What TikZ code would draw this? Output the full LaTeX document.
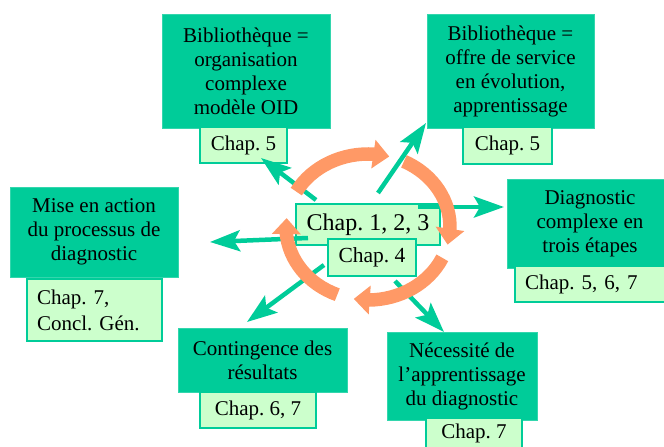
\documentclass[tikz,border=0pt]{standalone}
\usepackage{fontspec}
\setmainfont{Liberation Serif}
\usetikzlibrary{arrows.meta,bending}
\definecolor{dkg}{HTML}{00CC99}
\definecolor{ltg}{HTML}{CCFFCC}
\definecolor{org}{HTML}{FF9966}
\frenchspacing
\begin{document}
\begin{tikzpicture}[x=1pt,y=-1pt,
  dark/.style={fill=dkg, draw=dkg!80!white, line width=0.8pt, inner sep=0pt, align=center, font=\fontsize{21}{24}\selectfont},
  light/.style={fill=ltg, draw=dkg, line width=1.2pt, inner sep=0pt, align=center, font=\fontsize{21}{24}\selectfont},
  lightl/.style={light, align=left, inner xsep=10pt},
  garrow/.style={draw=dkg, line width=4.5pt, -{Stealth[length=30pt,width=21pt,inset=6pt]}},
  oarc/.style={draw=org, line width=13.5pt, -{Triangle[length=16pt,width=28pt]}}]
\useasboundingbox (0,0) rectangle (664,447);
\clip (0,0) rectangle (664,447);

% outer boxes
\node[dark, minimum width=168pt, minimum height=114pt] (b1) at (246,71) {Bibliothèque =\\organisation\\complexe\\modèle OID};
\node[light, minimum width=87pt, minimum height=36pt] (c1) at (243.5,145) {Chap. 5};

\node[dark, minimum width=167pt, minimum height=114pt] (b2) at (510.5,71) {Bibliothèque =\\offre de service\\en évolution,\\apprentissage};
\node[light, minimum width=89pt, minimum height=37pt] (c2) at (507.5,145.5) {Chap. 5};

\node[dark, minimum width=168pt, minimum height=90pt] (b3) at (94,232) {Mise en action\\du processus de\\diagnostic};
\node[lightl, text width=115pt, minimum height=62pt, font=\fontsize{21}{26}\selectfont] (c3) at (94.5,310) {Chap. 7,\\Concl. Gén.};

\node[dark, minimum width=166pt, minimum height=89pt] (b4) at (590,223.5) {Diagnostic\\complexe en\\trois étapes};
\node[lightl, text width=140pt, minimum height=36pt] (c4) at (595,284) {Chap. 5, 6, 7};

\node[dark, minimum width=169pt, minimum height=64pt] (b5) at (262.5,360) {Contingence des\\résultats};
\node[light, minimum width=116pt, minimum height=36pt] (c5) at (258,410) {Chap. 6, 7};

\node[dark, minimum width=150pt, minimum height=88pt] (b6) at (462,376) {Nécessité de\\l’apprentissage\\du diagnostic};
\node[light, minimum width=96pt, minimum height=30pt] (c6) at (474,433) {Chap. 7};

% centre
\node[light, minimum width=144pt, minimum height=41pt, font=\fontsize{24}{28}\selectfont] (m1) at (368,224.5) {Chap. 1, 2, 3};
\node[light, minimum width=88pt, minimum height=37pt, font=\fontsize{21.5}{24}\selectfont] (m2) at (372,257.5) {Chap. 4};

% green arrows
\coordinate (s1) at (316,200); \coordinate (t1) at (261,158);
\coordinate (s2) at (378,193); \coordinate (t2) at (426,123);
\coordinate (s3) at (418,207); \coordinate (t3) at (504,207);
\coordinate (s4) at (308,238); \coordinate (t4) at (210,242);
\coordinate (s5) at (324,265); \coordinate (t5) at (247,322);
\coordinate (s6) at (395,281); \coordinate (t6) at (444,332);
\draw[garrow] (s1) -- (t1);
\draw[garrow] (s2) -- (t2);
\draw[garrow] (s3) -- (t3);
\draw[garrow] (s4) -- (t4);
\draw[garrow] (s5) -- (t5);
\draw[garrow] (s6) -- (t6);

% orange cycle
\coordinate (O) at (368,227);
\draw[oarc] (O) ++(-151:82 and 73) arc[start angle=-151, end angle=-75, x radius=82, y radius=73];
\draw[oarc] (O) ++(-64:82 and 73) arc[start angle=-64, end angle=14, x radius=82, y radius=73];
\draw[oarc] (O) ++(25:82 and 73) arc[start angle=25, end angle=100, x radius=82, y radius=73];
\draw[oarc] (O) ++(112:82 and 73) arc[start angle=112, end angle=187, x radius=82, y radius=73];
\end{tikzpicture}
\end{document}
